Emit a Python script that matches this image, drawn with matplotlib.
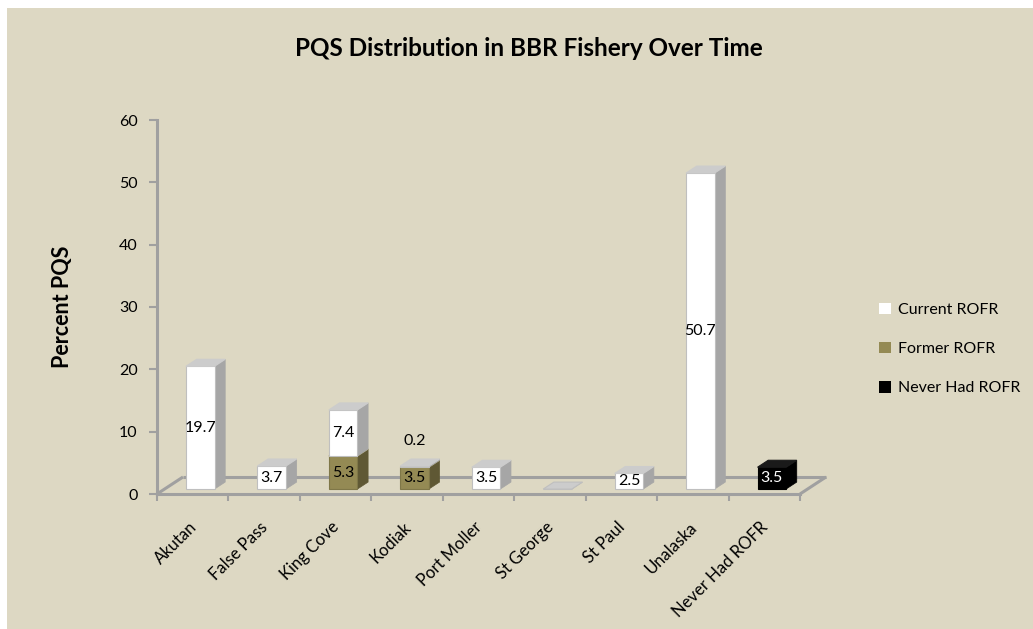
import matplotlib
matplotlib.use("Agg")
import matplotlib.pyplot as plt
from matplotlib.patches import Polygon, Patch
from matplotlib.transforms import ScaledTranslation
import numpy as np

plt.rcParams['font.family'] = ['Lato', 'DejaVu Sans']

# data (percent PQS), stacked bottom -> top
places = ['Akutan', 'False Pass', 'King Cove', 'Kodiak', 'Port Moller',
          'St George', 'St Paul', 'Unalaska', 'Never Had ROFR']
never_had = [0, 0, 0, 0, 0, 0, 0, 0, 3.5]
former = [0, 0, 5.3, 3.5, 0, 0, 0, 0, 0]
current = [19.7, 3.7, 7.4, 0.2, 3.5, 0, 2.5, 50.7, 0]

series_names = ['Never Had ROFR', 'Former ROFR', 'Current ROFR']
series_vals = [never_had, former, current]
# front, side, top, edge, label colour
styles = {
    'Current ROFR': ('#FFFFFF', '#A6A6A6', '#CCCCCC', '#BFBFBF', 'black'),
    'Former ROFR': ('#948A54', '#5F5834', '#A69E6E', '#7F7748', 'black'),
    'Never Had ROFR': ('#000000', '#000000', '#1A1A1A', '#000000', 'white'),
}

bg = '#DDD8C3'
grey = '#A0A0A0'

fig = plt.figure(figsize=(10.33, 6.29), dpi=100)
fig.patch.set_facecolor('white')
fig.add_artist(plt.Rectangle((7 / 1033, 0), 1, 1 - 8 / 629, transform=fig.transFigure,
                             facecolor=bg, edgecolor='none', zorder=-10))

ax = fig.add_axes([157 / 1033, 135 / 629, 643 / 1033, 374 / 629])
ax.set_facecolor('none')
ax.set_xlim(-0.5, 8.5)
ax.set_ylim(0, 60)

# fake depth of the 3D floor, in data units
DX, DY = 0.364, 2.73
f0, f1 = 0.29, 0.70
w = 0.40

# floor outline
fl = dict(color=grey, lw=2.2, clip_on=False, zorder=1, solid_capstyle='butt')
ax.plot([8.5, 8.5 + DX], [0, DY], **fl)
ax.plot([-0.5 + DX, 8.5 + DX], [DY, DY], **fl)
ax.plot([-0.5, -0.5 + DX], [0, DY], **fl)

x = np.arange(len(places))
for i in x:
    bottom = 0.0
    segs = [(n, v[i]) for n, v in zip(series_names, series_vals) if v[i] > 0]
    if not segs:
        segs = [('Current ROFR', 0.0)]
    for n, h in segs:
        front, side, top, edge, tc = styles[n]
        x0 = i - w / 2 + f0 * DX
        x1 = i + w / 2 + f0 * DX
        y0 = bottom + f0 * DY
        y1 = bottom + h + f0 * DY
        dx = (f1 - f0) * DX
        dy = (f1 - f0) * DY
        ax.add_patch(Polygon([(x1, y0), (x1 + dx, y0 + dy), (x1 + dx, y1 + dy), (x1, y1)],
                             closed=True, facecolor=side, edgecolor=side, lw=0.5,
                             zorder=2, clip_on=False))
        ax.bar(i + f0 * DX, h, width=w, bottom=y0, color=front, edgecolor=edge,
               linewidth=0.8, zorder=2, clip_on=False)
        ax.add_patch(Polygon([(x0, y1), (x0 + dx, y1 + dy), (x1 + dx, y1 + dy), (x1, y1)],
                             closed=True, facecolor=top, edgecolor=edge if h == 0 else top,
                             lw=0.8, zorder=2, clip_on=False))
        if h > 0:
            ly = (y0 + y1) / 2 if h >= 1 else y1 + 4.0
            ax.text(i + f0 * DX, ly, f'{h:.1f}', ha='center', va='center',
                    fontsize=11.5, color=tc, zorder=5)
        bottom += h

# axes styling
for s in ['top', 'right']:
    ax.spines[s].set_visible(False)
ax.spines['left'].set_color(grey)
ax.spines['left'].set_linewidth(2.2)
ax.spines['bottom'].set_color(grey)
ax.spines['bottom'].set_linewidth(2.2)
ax.set_yticks(range(0, 61, 10))
ax.tick_params(axis='y', direction='out', length=6, width=1.5, color=grey,
               labelsize=11.5, pad=8)
ax.set_xticks(x)
ax.set_xticklabels(places, rotation=45, ha='right', va='top', fontsize=12)
ax.set_xticks(np.arange(-0.5, 9, 1), minor=True)
ax.tick_params(axis='x', which='major', length=0, pad=18)
ax.tick_params(axis='x', which='minor', direction='out', length=5, width=1.5, color=grey)
for lab in ax.get_xticklabels():
    lab.set_transform(lab.get_transform() + ScaledTranslation(7 / 100, 0, fig.dpi_scale_trans))

ax.set_ylabel('Percent PQS', fontsize=15.5, fontweight='bold')
ax.yaxis.set_label_coords(-0.13, 0.5)
fig.text(529 / 1033, 1 - 56 / 629, 'PQS Distribution in BBR Fishery Over Time',
         ha='center', va='baseline', fontsize=17.5, fontweight='bold')

handles = [Patch(facecolor=styles[n][0], edgecolor='none') for n in series_names[::-1]]
fig.legend(handles, series_names[::-1], loc='center left',
           bbox_to_anchor=(865 / 1033, 1 - 349 / 629), frameon=False,
           fontsize=11.5, handlelength=0.75, handleheight=0.75, handletextpad=0.4,
           labelspacing=1.55)

fig.savefig('out.png', dpi=100, facecolor=fig.get_facecolor())
